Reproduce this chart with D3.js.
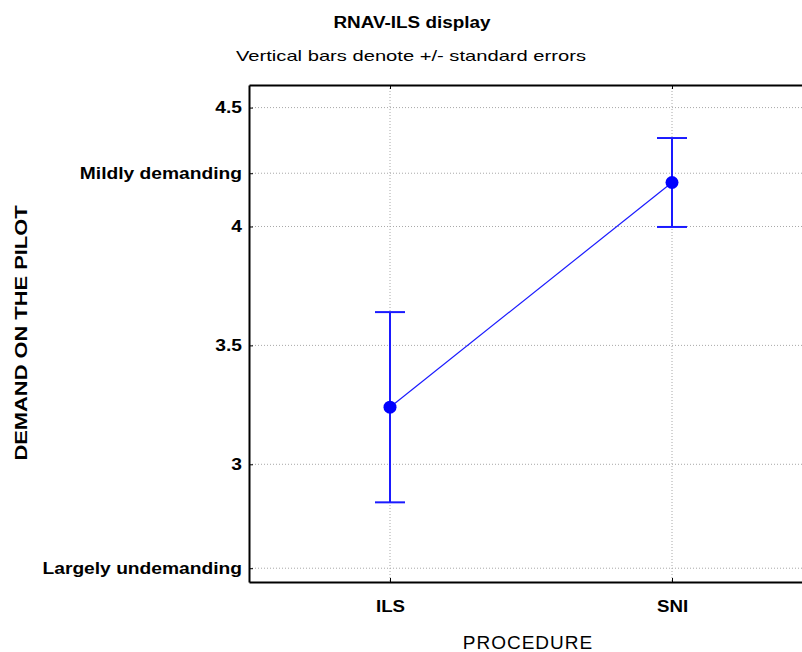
<!DOCTYPE html>
<html>
<head>
<meta charset="utf-8">
<script src="https://cdn.jsdelivr.net/npm/d3@7"></script>
<style>
  body { margin: 0; background: #fff; }
  text { font-family: "Liberation Sans", Arial, sans-serif; }
</style>
</head>
<body>
<div id="chart"></div>
<script>
// data
const procedures = ["ILS", "SNI"];
const means = [3.24, 4.185];
const stdErrors = [0.40, 0.187];
const tickValues = [2.563, 3, 3.5, 4, 4.224, 4.5];
const tickLabels = ["Largely undemanding", "3", "3.5", "4", "Mildly demanding", "4.5"];

const width = 802, height = 652;
const margin = {top: 85, right: -11, bottom: 70, left: 249};

const svg = d3.select("#chart").append("svg")
    .attr("width", width)
    .attr("height", height);

// the original text looks stretched sideways, so widen it a bit
function stretch(sel, f) {
  sel.each(function() {
    let w = this.getComputedTextLength();
    d3.select(this).attr("textLength", w * f).attr("lengthAdjust", "spacingAndGlyphs");
  });
}

const x = d3.scalePoint()
    .domain(procedures)
    .range([margin.left, width - margin.right])
    .padding(0.5);

const y = d3.scaleLinear()
    .domain([2.505, 4.595])
    .range([height - margin.bottom, margin.top]);

// grid
const grid = svg.append("g").attr("class", "grid");
grid.selectAll("line.h").data(tickValues).enter().append("line")
    .attr("x1", margin.left).attr("x2", width)
    .attr("y1", d => y(d)).attr("y2", d => y(d))
    .attr("stroke", "#a8a8a8").attr("stroke-width", 1)
    .attr("stroke-dasharray", "1,2");
grid.selectAll("line.v").data(procedures).enter().append("line")
    .attr("x1", d => x(d)).attr("x2", d => x(d))
    .attr("y1", margin.top).attr("y2", height - margin.bottom)
    .attr("stroke", "#a8a8a8").attr("stroke-width", 1)
    .attr("stroke-dasharray", "1,2");

// axes (ticks point inward)
const yAxis = d3.axisLeft(y)
    .tickValues(tickValues)
    .tickFormat((d, i) => tickLabels[i])
    .tickSizeInner(-4).tickSizeOuter(0).tickPadding(7);
svg.append("g")
    .attr("transform", "translate(" + margin.left + ",0)")
    .call(yAxis)
    .call(g => g.select(".domain").attr("stroke-width", 2))
    .call(g => g.selectAll("text")
        .attr("font-size", 16).attr("font-weight", "bold").attr("fill", "#000")
        .call(stretch, 1.2));

const xAxis = d3.axisBottom(x).tickSizeInner(-4).tickSizeOuter(0).tickPadding(18);
svg.append("g")
    .attr("transform", "translate(0," + (height - margin.bottom) + ")")
    .call(xAxis)
    .call(g => g.select(".domain").attr("stroke-width", 2))
    .call(g => g.selectAll("text")
        .attr("font-size", 17).attr("font-weight", "bold").attr("fill", "#000")
        .call(stretch, 1.1));

const xTop = d3.axisTop(x).tickSizeInner(-4).tickSizeOuter(0).tickFormat("");
svg.append("g")
    .attr("transform", "translate(0," + margin.top + ")")
    .call(xTop)
    .call(g => g.select(".domain").attr("stroke-width", 2));

// line between means
const pts = procedures.map((p, i) => ({p: p, m: means[i], se: stdErrors[i]}));
svg.append("path")
    .datum(pts)
    .attr("fill", "none")
    .attr("stroke", "#1a1aff")
    .attr("stroke-width", 1.2)
    .attr("d", d3.line().x(d => x(d.p)).y(d => y(d.m)));

// error bars
const eb = svg.append("g").selectAll("g").data(pts).enter().append("g");
eb.append("line")
    .attr("x1", d => x(d.p)).attr("x2", d => x(d.p))
    .attr("y1", d => y(d.m + d.se)).attr("y2", d => y(d.m - d.se))
    .attr("stroke", "#1a1aff").attr("stroke-width", 2);
eb.append("line")
    .attr("x1", d => x(d.p) - 15).attr("x2", d => x(d.p) + 15)
    .attr("y1", d => y(d.m + d.se)).attr("y2", d => y(d.m + d.se))
    .attr("stroke", "#1a1aff").attr("stroke-width", 2);
eb.append("line")
    .attr("x1", d => x(d.p) - 15).attr("x2", d => x(d.p) + 15)
    .attr("y1", d => y(d.m - d.se)).attr("y2", d => y(d.m - d.se))
    .attr("stroke", "#1a1aff").attr("stroke-width", 2);
eb.append("circle")
    .attr("cx", d => x(d.p)).attr("cy", d => y(d.m))
    .attr("r", 6.5).attr("fill", "#0000ff");

// titles
svg.append("text")
    .attr("x", 412).attr("y", 28)
    .attr("text-anchor", "middle")
    .attr("font-size", 16).attr("font-weight", "bold")
    .text("RNAV-ILS display")
    .call(stretch, 1.18);
svg.append("text")
    .attr("x", 411).attr("y", 61)
    .attr("text-anchor", "middle")
    .attr("font-size", 15)
    .text("Vertical bars denote +/- standard errors")
    .attr("textLength", 350).attr("lengthAdjust", "spacingAndGlyphs");
svg.append("text")
    .attr("x", 528).attr("y", 649)
    .attr("text-anchor", "middle")
    .attr("font-size", 19).attr("letter-spacing", 1)
    .text("PROCEDURE");
svg.append("text")
    .attr("transform", "translate(27,333) rotate(-90)")
    .attr("text-anchor", "middle")
    .attr("font-size", 16).attr("font-weight", "bold")
    .text("DEMAND ON THE PILOT")
    .attr("textLength", 255).attr("lengthAdjust", "spacingAndGlyphs");
</script>
</body>
</html>
